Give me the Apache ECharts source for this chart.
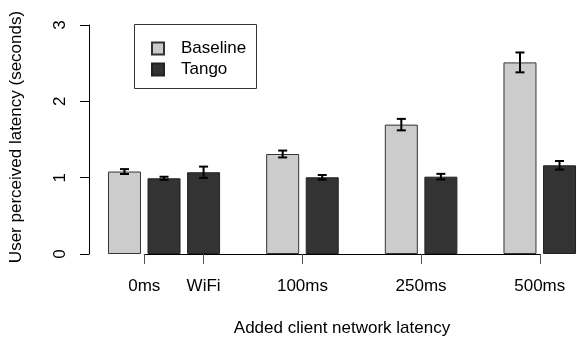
<!DOCTYPE html>
<html>
<head>
<meta charset="utf-8">
<script src="https://cdn.jsdelivr.net/npm/echarts@6/dist/echarts.min.js"></script>
<style>html,body{margin:0;padding:0;background:#fff}#c{width:577px;height:337px}</style>
</head>
<body>
<div id="c"></div>
<script>
// ---- data ----
const groups = ['0ms', 'WiFi', '100ms', '250ms', '500ms'];
const baseline = [1.08, null, 1.31, 1.695, 2.51];
const baselineErr = [0.032, null, 0.045, 0.075, 0.13];
const tango = [0.992, 1.071, 1.005, 1.013, 1.162];
const tangoErr = [0.02, 0.074, 0.03, 0.037, 0.056];
const yTicks = [0, 1, 2, 3];
const seriesNames = ['Baseline', 'Tango'];
const spacerBefore = [false, false, true, true, true];

// ---- build slots (one bar per slot, empty slot between groups) ----
const slotNames = [];
const baseSlots = [];
const tangoSlots = [];
const errData = [];
const groupCenters = [];
groups.forEach((g, gi) => {
  if (spacerBefore[gi]) { slotNames.push('gap' + gi); baseSlots.push('-'); tangoSlots.push('-'); }
  const idx = [];
  if (baseline[gi] != null) {
    idx.push(slotNames.length);
    errData.push([slotNames.length, baseline[gi], baselineErr[gi]]);
    slotNames.push(g + '-B'); baseSlots.push(baseline[gi]); tangoSlots.push('-');
  }
  if (tango[gi] != null) {
    idx.push(slotNames.length);
    errData.push([slotNames.length, tango[gi], tangoErr[gi]]);
    slotNames.push(g + '-T'); baseSlots.push('-'); tangoSlots.push(tango[gi]);
  }
  groupCenters.push(idx.reduce((a, b) => a + b, 0) / idx.length);
});

const FONT = 'Liberation Sans, Arial, Helvetica, sans-serif';
const L = 104.7, P = 39.55;
const nSlots = slotNames.length;
const firstT = groupCenters[0], lastT = groupCenters[groupCenters.length - 1];

const chart = echarts.init(document.getElementById('c'));
chart.setOption({
  animation: false,
  backgroundColor: '#fff',
  textStyle: { fontFamily: FONT },
  grid: [
    { left: L, top: 25, width: nSlots * P, bottom: 83, containLabel: false, outerBoundsMode: 'none' },
    { left: L + (firstT + 0.5) * P, top: 25, width: (lastT - firstT) * P, bottom: 83, containLabel: false, outerBoundsMode: 'none' }
  ],
  xAxis: [
    { type: 'category', gridIndex: 0, data: slotNames, boundaryGap: true,
      axisLine: { show: false }, axisTick: { show: false }, axisLabel: { show: false }, splitLine: { show: false } },
    { type: 'value', gridIndex: 1, min: firstT, max: lastT, position: 'bottom',
      axisLine: { show: true, onZero: false, lineStyle: { color: '#000', width: 1 } },
      axisTick: { show: true, length: 10, customValues: groupCenters, lineStyle: { color: '#555', width: 1 } },
      axisLabel: { show: true, customValues: groupCenters, margin: 24, fontSize: 17, color: '#000', fontFamily: FONT,
        formatter: v => { const i = groupCenters.findIndex(c => Math.abs(c - v) < 1e-6); return i >= 0 ? groups[i] : ''; } },
      splitLine: { show: false },
      name: 'Added client network latency', nameLocation: 'middle', nameGap: 66,
      nameTextStyle: { fontSize: 17, color: '#000', fontFamily: FONT } }
  ],
  yAxis: [
    { type: 'value', gridIndex: 0, min: 0, max: 3, interval: 1, offset: L - 89,
      axisLine: { show: true, lineStyle: { color: '#000', width: 1 } },
      axisTick: { show: true, length: 9, lineStyle: { color: '#000' } },
      axisLabel: { rotate: 90, margin: 20, fontSize: 17, color: '#000', fontFamily: FONT,
        formatter: v => yTicks.indexOf(v) >= 0 ? String(v) : '' },
      splitLine: { show: false } },
    { type: 'value', gridIndex: 1, min: 0, max: 3, show: false }
  ],
  legend: {
    data: seriesNames, orient: 'vertical', left: 151, top: 40, padding: 0,
    itemWidth: 12, itemHeight: 12, itemGap: 4, icon: 'rect',
    textStyle: { fontSize: 17, color: '#000', fontFamily: FONT, padding: [0, 0, 0, 12] }
  },
  graphic: [
    { type: 'rect', shape: { x: 134.5, y: 24.5, width: 122, height: 64 },
      style: { fill: 'none', stroke: '#333', lineWidth: 1 }, z: 100 },
    { type: 'text', x: 16, y: 137, rotation: Math.PI / 2,
      style: { text: 'User perceived latency (seconds)', fontSize: 17, fill: '#000', fontFamily: FONT,
        align: 'center', verticalAlign: 'middle' } }
  ],
  series: [
    { name: seriesNames[0], type: 'bar', xAxisIndex: 0, yAxisIndex: 0, data: baseSlots,
      barWidth: 33, barGap: '-100%',
      itemStyle: { color: '#cccccc', borderColor: '#333', borderWidth: 1 } },
    { name: seriesNames[1], type: 'bar', xAxisIndex: 0, yAxisIndex: 0, data: tangoSlots,
      barWidth: 33, barGap: '-100%',
      itemStyle: { color: '#333333', borderColor: '#222', borderWidth: 1 } },
    { type: 'custom', xAxisIndex: 0, yAxisIndex: 0, data: errData, z: 10,
      renderItem: (params, api) => {
        const x = api.value(0), v = api.value(1), e = api.value(2);
        const top = api.coord([x, v + e]);
        const bot = api.coord([x, v - e]);
        const hw = 4.5;
        const st = { stroke: '#000', lineWidth: 2 };
        return { type: 'group', children: [
          { type: 'line', shape: { x1: top[0], y1: top[1], x2: bot[0], y2: bot[1] }, style: st },
          { type: 'line', shape: { x1: top[0] - hw, y1: top[1], x2: top[0] + hw, y2: top[1] }, style: st },
          { type: 'line', shape: { x1: bot[0] - hw, y1: bot[1], x2: bot[0] + hw, y2: bot[1] }, style: st }
        ] };
      } }
  ]
});
</script>
</body>
</html>
